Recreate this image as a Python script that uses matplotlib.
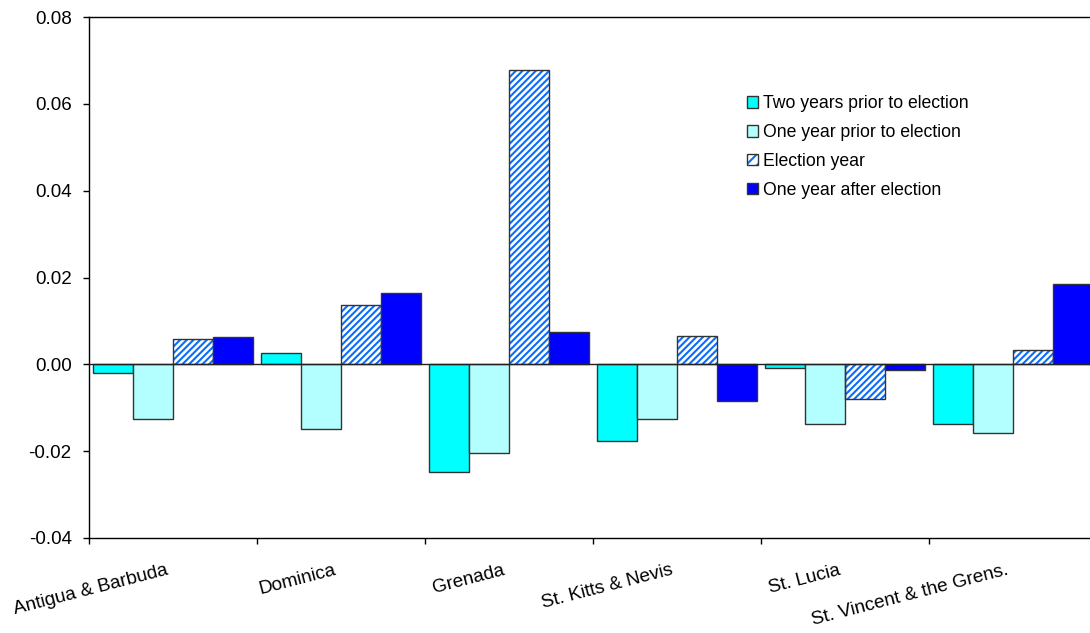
import matplotlib
matplotlib.use("Agg")
import matplotlib.pyplot as plt
import matplotlib.transforms as mtransforms
import numpy as np
from matplotlib.patches import Patch
from matplotlib.legend_handler import HandlerTuple
from matplotlib.ticker import FormatStrFormatter, FixedLocator

plt.rcParams['font.family'] = ['Liberation Sans', 'DejaVu Sans']
plt.rcParams['axes.unicode_minus'] = False
plt.rcParams['hatch.linewidth'] = 1.5

countries = ["Antigua & Barbuda", "Dominica", "Grenada", "St. Kitts & Nevis",
             "St. Lucia", "St. Vincent & the Grens."]
series_names = ["Two years prior to election", "One year prior to election",
                "Election year", "One year after election"]
two_years_prior = [-0.0019, 0.0025, -0.0248, -0.0176, -0.0009, -0.0138]
one_year_prior = [-0.0127, -0.0150, -0.0204, -0.0127, -0.0138, -0.0158]
election_year = [0.0059, 0.0136, 0.0677, 0.0065, -0.0079, 0.0034]
one_year_after = [0.0063, 0.0164, 0.0074, -0.0085, -0.0012, 0.0184]
yticks = [-0.04, -0.02, 0.00, 0.02, 0.04, 0.06, 0.08]

W, H = 1090, 633
fig = plt.figure(figsize=(W / 100, H / 100), dpi=100)
ax = fig.add_axes([89 / W, (H - 538) / H, 1008 / W, (538 - 17) / H])

x = np.arange(len(countries))
bw = 0.238
edge = '#333333'
hatch_col = '#0A6CFF'
HATCH = '/////'

series = [two_years_prior, one_year_prior, election_year, one_year_after]
styles = [dict(color='#00FFFF'), dict(color='#B3FFFF'), dict(color='white', hatch=HATCH),
          dict(color='#0000FF')]

handles = []
for i, (vals, st) in enumerate(zip(series, styles)):
    pos = x + (i - 1.5) * bw
    if 'hatch' in st:
        ax.bar(pos, vals, bw, color='white', edgecolor=hatch_col, linewidth=0,
               hatch=st['hatch'], zorder=2)
        ax.bar(pos, vals, bw, fill=False, edgecolor=edge, linewidth=1.0, zorder=3)
        h = (Patch(facecolor='white', edgecolor=hatch_col, linewidth=0, hatch='///'),
             Patch(fill=False, edgecolor=edge, linewidth=1.0))
    else:
        ax.bar(pos, vals, bw, color=st['color'], edgecolor=edge, linewidth=1.0, zorder=3)
        h = Patch(facecolor=st['color'], edgecolor=edge, linewidth=1.0)
    handles.append(h)

ax.axhline(0, color='#222222', linewidth=1.0, zorder=4)

ax.set_xlim(-0.5, len(countries) - 0.5)
ax.set_ylim(yticks[0], yticks[-1])
ax.set_yticks(yticks)
ax.yaxis.set_major_formatter(FormatStrFormatter('%.2f'))
ax.tick_params(axis='y', direction='out', length=4.5, width=1, pad=8, labelsize=13.5)

ax.xaxis.set_major_locator(FixedLocator(np.arange(len(countries) + 1) - 0.5))
ax.xaxis.set_major_formatter(plt.NullFormatter())
ax.set_xticks(x, minor=True)
ax.set_xticklabels(countries, minor=True, rotation=14.5, ha='right',
                   rotation_mode='anchor')
ax.tick_params(axis='x', which='major', direction='out', length=4.5, width=1)
ax.tick_params(axis='x', which='minor', length=0, pad=17, labelsize=13.7)
shift = mtransforms.ScaledTranslation(-7 / 100, 0, fig.dpi_scale_trans)
for lbl in ax.xaxis.get_minorticklabels():
    lbl.set_transform(lbl.get_transform() + shift)

for s in ['left', 'top', 'bottom', 'right']:
    ax.spines[s].set_linewidth(1.0)
    ax.spines[s].set_color('black')

ax.legend(handles, series_names, loc='upper left',
          bbox_to_anchor=(747 / W, 1 - 95 / H), bbox_transform=fig.transFigure,
          frameon=False, fontsize=12.7, handlelength=0.62, handleheight=0.62,
          handletextpad=0.3, labelspacing=0.68, borderpad=0, borderaxespad=0,
          handler_map={tuple: HandlerTuple(ndivide=1, pad=0)})

fig.savefig('out.png', dpi=100)
